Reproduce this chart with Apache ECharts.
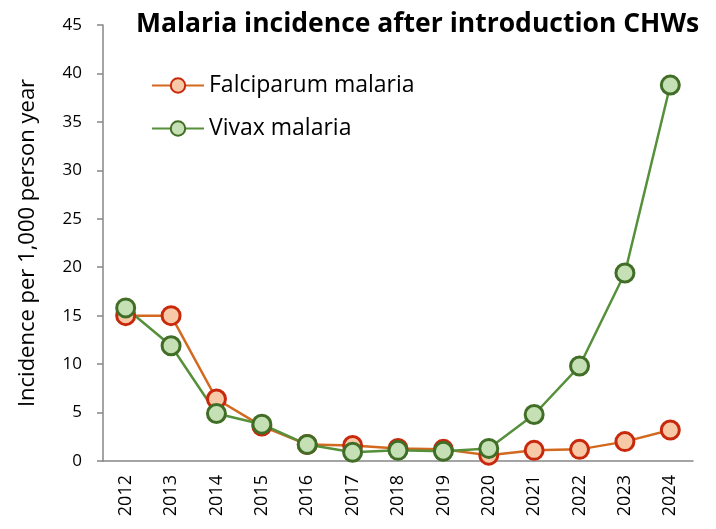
<!DOCTYPE html>
<html><head><meta charset="utf-8">
<script src="https://cdn.jsdelivr.net/npm/echarts@6/dist/echarts.min.js"></script>
<style>html,body{margin:0;padding:0;background:#fff}#c{width:716px;height:529px}</style>
</head><body><div id="c"></div>
<script>
const years = ['2012','2013','2014','2015','2016','2017','2018','2019','2020','2021','2022','2023','2024'];
const falciparum = [15.0, 15.0, 6.4, 3.6, 1.7, 1.6, 1.3, 1.2, 0.6, 1.1, 1.2, 2.0, 3.2];
const vivax = [15.8, 11.9, 4.9, 3.8, 1.7, 0.9, 1.1, 1.0, 1.3, 4.8, 9.8, 19.4, 38.8];
const yTicks = [0, 45, 5];
const font = 'Open Sans';
const chart = echarts.init(document.getElementById('c'), null, {renderer:'canvas'});
chart.setOption({
  animation:false,
  backgroundColor:'#fff',
  title:{text:'Malaria incidence after introduction CHWs', left:131, top:6,
    textStyle:{fontFamily:font, fontWeight:'bold', fontSize:26.5, color:'#000'}},
  legend:{orient:'vertical', left:146, top:69, itemGap:20, itemWidth:52, itemHeight:18,
    textStyle:{fontFamily:font, fontSize:23, color:'#000'},
    data:['Falciparum malaria','Vivax malaria']},
  grid:{left:103, right:23, top:25, bottom:68},
  xAxis:{type:'category', data:years, boundaryGap:true,
    axisLine:{lineStyle:{color:'#868686', width:1.5}},
    axisTick:{length:6, lineStyle:{color:'#868686', width:1.5}},
    axisLabel:{rotate:90, fontFamily:font, fontSize:18, color:'#000', margin:14}},
  yAxis:{type:'value', min:yTicks[0], max:yTicks[1], interval:yTicks[2],
    name:'Incidence per 1,000 person year', nameLocation:'middle', nameGap:64, nameRotate:90,
    nameTextStyle:{fontFamily:font, fontSize:22, color:'#000'},
    axisLine:{show:true, lineStyle:{color:'#868686', width:1.5}},
    axisTick:{show:true, length:6, lineStyle:{color:'#868686', width:1.5}},
    splitLine:{show:false},
    axisLabel:{fontFamily:font, fontSize:17, color:'#000', margin:21}},
  series:[
    {name:'Falciparum malaria', type:'line', data:falciparum, symbol:'circle', symbolSize:18,
      lineStyle:{color:'#d2691e', width:2.5},
      itemStyle:{color:'#f8c9a7', borderColor:'#c8280c', borderWidth:3}},
    {name:'Vivax malaria', type:'line', data:vivax, symbol:'circle', symbolSize:18,
      lineStyle:{color:'#56903a', width:2.5},
      itemStyle:{color:'#c5e0b4', borderColor:'#416e26', borderWidth:3}}
  ]
});
</script></body></html>
